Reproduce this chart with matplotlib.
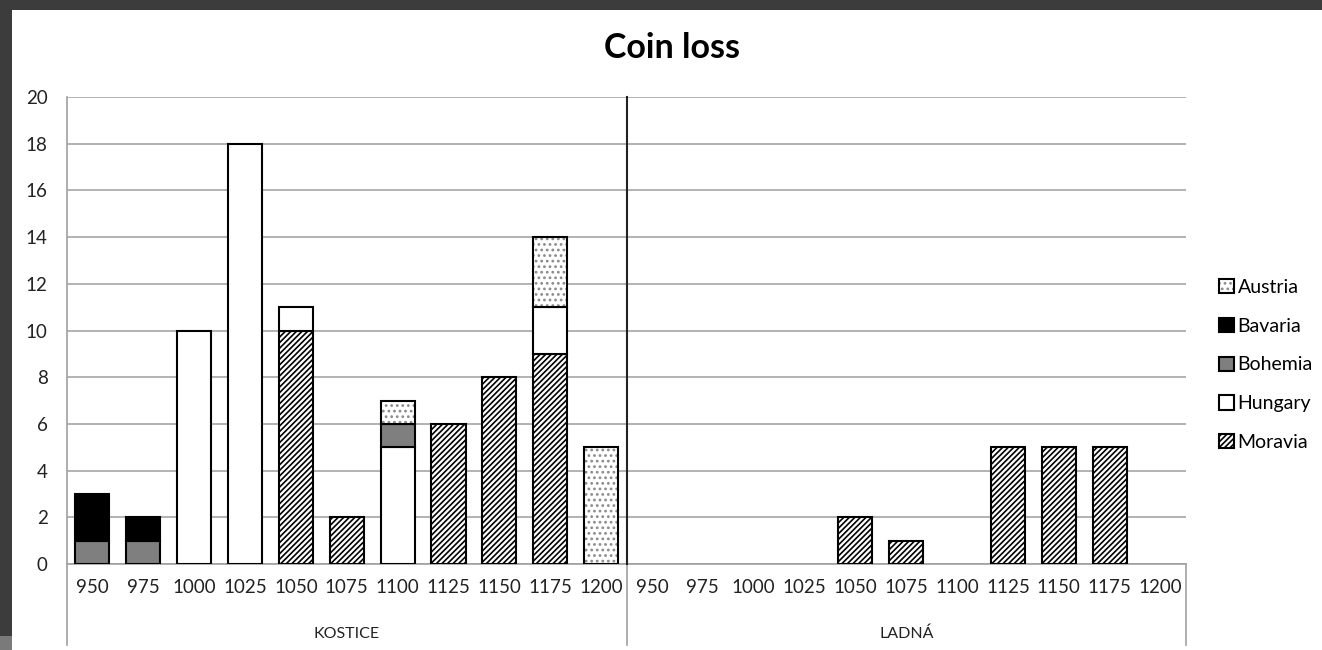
import numpy as np
import matplotlib
matplotlib.use('Agg')
import matplotlib.pyplot as plt
from matplotlib.patches import Rectangle
from matplotlib.legend_handler import HandlerTuple
import matplotlib.transforms as mtransforms

plt.rcParams['font.family'] = ['Lato', 'DejaVu Sans']
plt.rcParams['hatch.linewidth'] = 1.2

# Coin finds per 25-year period at two sites
years = ['950', '975', '1000', '1025', '1050', '1075', '1100', '1125', '1150', '1175', '1200']
sites = ['KOSTICE', 'LADNÁ']

# Kostice, then Ladná (11 periods each)
moravia = [0, 0, 0, 0, 10, 2, 0, 6, 8, 9, 0,
           0, 0, 0, 0, 2, 1, 0, 5, 5, 5, 0]
hungary = [0, 0, 10, 18, 1, 0, 5, 0, 0, 2, 0,
           0, 0, 0, 0, 0, 0, 0, 0, 0, 0, 0]
bohemia = [1, 1, 0, 0, 0, 0, 1, 0, 0, 0, 0,
           0, 0, 0, 0, 0, 0, 0, 0, 0, 0, 0]
bavaria = [2, 1, 0, 0, 0, 0, 0, 0, 0, 0, 0,
           0, 0, 0, 0, 0, 0, 0, 0, 0, 0, 0]
austria = [0, 0, 0, 0, 0, 0, 1, 0, 0, 3, 5,
           0, 0, 0, 0, 0, 0, 0, 0, 0, 0, 0]

fig = plt.figure(figsize=(13.22, 6.5), dpi=100)

# dark window frame along the top and left edges
fig.patches.append(Rectangle((0, 1 - 10 / 650), 1, 10 / 650, transform=fig.transFigure,
                             facecolor='#3c3c3c', edgecolor='none', zorder=0))
fig.patches.append(Rectangle((0, 14 / 650), 12 / 1322, 1 - 24 / 650, transform=fig.transFigure,
                             facecolor='#3c3c3c', edgecolor='none', zorder=0))
fig.patches.append(Rectangle((0, 0), 12 / 1322, 14 / 650, transform=fig.transFigure,
                             facecolor='#7a7a7a', edgecolor='none', zorder=0))

ax = fig.add_axes([67 / 1322, 1 - 564 / 650, (1186 - 67) / 1322, (564 - 97) / 650])

x = np.arange(len(moravia))
w = 0.67
bottom = np.zeros(len(x))

def stack(vals, **kw):
    global bottom
    vals = np.array(vals, dtype=float)
    m = vals > 0
    h = ax.bar(x[m], vals[m], w, bottom=bottom[m], zorder=3, **kw)
    bottom = bottom + vals
    return h

h_mor = stack(moravia, facecolor='white', edgecolor='black', hatch='//////', linewidth=1.5)
h_hun = stack(hungary, facecolor='white', edgecolor='black', linewidth=1.5)
h_boh = stack(bohemia, facecolor='#7f7f7f', edgecolor='black', linewidth=1.5)
h_bav = stack(bavaria, facecolor='black', edgecolor='black', linewidth=1.5)

# Austria: grey dots with a black outline drawn over them
aus = np.array(austria, dtype=float)
m = aus > 0
h_aus_fill = ax.bar(x[m], aus[m], w, bottom=bottom[m], facecolor='white',
                    edgecolor='#8a8a8a', hatch='...', linewidth=0, zorder=3)
h_aus_edge = ax.bar(x[m], aus[m], w, bottom=bottom[m], facecolor='none',
                    edgecolor='black', linewidth=1.5, zorder=4)

ax.set_xlim(-0.5, len(x) - 0.5)
ax.set_ylim(0, 20)
ax.set_yticks(range(0, 21, 2))
ax.grid(axis='y', color='#a6a6a6', linewidth=1.2, zorder=0)
ax.set_axisbelow(True)
for s in ['top', 'right']:
    ax.spines[s].set_visible(False)
for s in ['left', 'bottom']:
    ax.spines[s].set_color('#a0a0a0')
    ax.spines[s].set_linewidth(1.2)
ax.tick_params(axis='y', length=0, pad=14, labelsize=13.5, labelcolor='#222222')
ax.set_xticks(x)
ax.set_xticklabels(years * 2)
ax.tick_params(axis='x', length=0, pad=11, labelsize=13.5, labelcolor='#222222')

# two-level category axis: group dividers and site names
trans = mtransforms.blended_transform_factory(ax.transData, ax.transAxes)
low = -(645 - 564) / 467
for xv in [-0.5, len(x) - 0.5]:
    ax.plot([xv, xv], [0, low], transform=trans, color='#a0a0a0', lw=1.2, clip_on=False)
ax.plot([10.5, 10.5], [0, low], transform=trans, color='#a0a0a0', lw=1.2, clip_on=False)
ax.plot([10.5, 10.5], [0, 1], transform=trans, color='#222222', lw=1.5, clip_on=False, zorder=5)
for i, site in enumerate(sites):
    ax.text(5 + 11 * i, -(634 - 564) / 467, site, transform=trans, ha='center', va='center',
            fontsize=11.5, color='#222222')

fig.text(672 / 1322, 1 - 48 / 650, 'Coin loss', ha='center', va='center',
         fontsize=24.5, fontweight='bold', color='black')

handles = [(h_aus_fill, h_aus_edge), h_bav, h_boh, h_hun, h_mor]
labels = ['Austria', 'Bavaria', 'Bohemia', 'Hungary', 'Moravia']
fig.legend(handles, labels, loc='center left', bbox_to_anchor=(1219 / 1322, 1 - 365 / 650),
           frameon=False, fontsize=14, handlelength=0.75, handleheight=0.75,
           handletextpad=0.2, labelspacing=1.12, borderpad=0, borderaxespad=0,
           handler_map={tuple: HandlerTuple(ndivide=1, pad=0)})

fig.savefig('out.png', dpi=100, facecolor='white')
